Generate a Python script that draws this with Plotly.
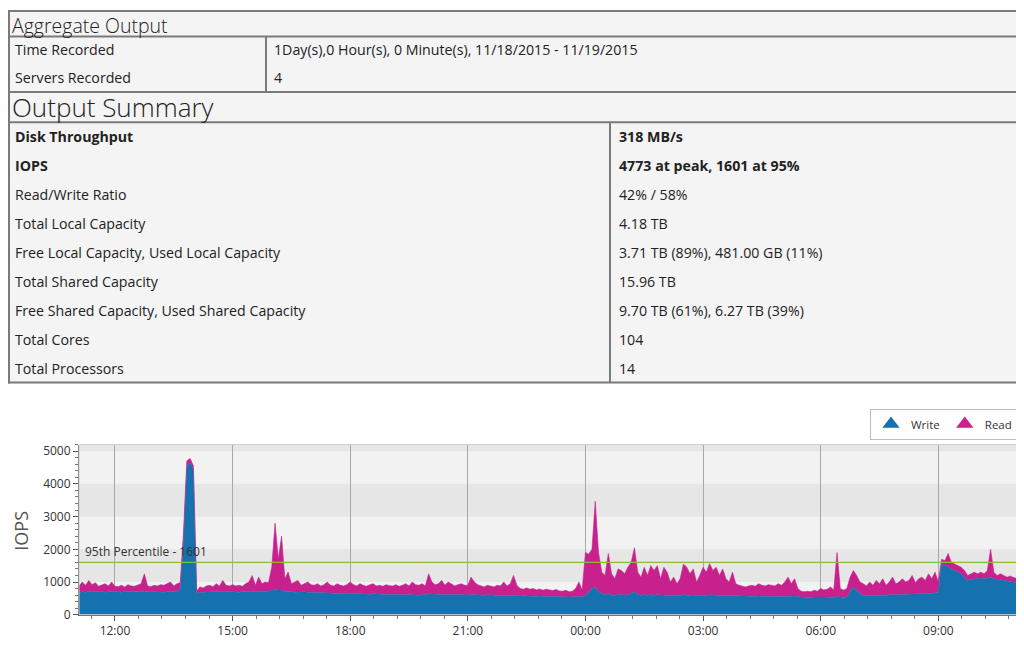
import plotly.graph_objects as go
import pandas as pd

# figure placement on the captured page (8px body margin, slight vertical squeeze)
W, H = 1016, 665
OX, OY, SY = 8, 10, 0.9837

# ---------------- table data ----------------
header_agg = "Aggregate Output"
header_sum = "Output Summary"
agg_labels = ["Time Recorded", "Servers Recorded"]
agg_values = ["1Day(s),0 Hour(s), 0 Minute(s), 11/18/2015 - 11/19/2015", "4"]
summary_labels = ["Disk Throughput", "IOPS", "Read/Write Ratio", "Total Local Capacity",
                  "Free Local Capacity, Used Local Capacity", "Total Shared Capacity",
                  "Free Shared Capacity, Used Shared Capacity", "Total Cores", "Total Processors"]
summary_values = ["318 MB/s", "4773 at peak, 1601 at 95%", "42% / 58%", "4.18 TB",
                  "3.71 TB (89%), 481.00 GB (11%)", "15.96 TB",
                  "9.70 TB (61%), 6.27 TB (39%)", "104", "14"]
bold_rows = [0, 1]

# ---------------- chart data (5-minute samples from 11/18 11:05) ----------------
start_time = "2015-11-18 11:05"
end_time = "2015-11-19 11:05"
p95_value = 1601
p95_label = "95th Percentile - 1601"
y_title = "IOPS"
series_names = ["Write", "Read"]

write_iops = [
    680, 700, 690, 710, 700, 690, 700, 720, 690, 700, 710, 700,      # 11:05-12:00
    700, 690, 710, 700, 690, 700, 710, 700, 690, 700, 710, 700,      # 12:05-13:00
    700, 700, 690, 700, 710, 700, 720, 800, 2300, 4500, 4650, 4450,  # 13:05-14:00
    650, 680, 690, 700, 690, 700, 710, 700, 690, 700, 710, 700,      # 14:05-15:00
    700, 690, 710, 700, 720, 700, 710, 700, 720, 710, 720, 750,      # 15:05-16:00
    770, 760, 760, 720, 700, 700, 690, 700, 690, 700, 690, 680,      # 16:05-17:00
    680, 670, 680, 670, 660, 670, 660, 650, 660, 650, 640, 650,      # 17:05-18:00
    640, 650, 640, 630, 640, 630, 640, 630, 620, 630, 620, 630,      # 18:05-19:00
    620, 630, 620, 610, 620, 610, 620, 610, 600, 620, 610, 640,      # 19:05-20:00
    630, 620, 610, 620, 610, 620, 610, 600, 610, 620, 610, 600,      # 20:05-21:00
    620, 610, 600, 610, 600, 610, 600, 590, 600, 590, 600, 590,      # 21:05-22:00
    590, 600, 580, 570, 580, 570, 560, 570, 560, 570, 560, 570,      # 22:05-23:00
    560, 550, 560, 550, 540, 550, 540, 550, 560, 550, 560, 600,      # 23:05-00:00
    700, 800, 850, 700, 650, 620, 650, 600, 600, 620, 610, 600,      # 00:05-01:00
    620, 650, 700, 620, 600, 610, 600, 620, 600, 610, 600, 590,      # 01:05-02:00
    600, 590, 600, 580, 600, 620, 600, 590, 610, 580, 600, 590,      # 02:05-03:00
    600, 610, 600, 590, 600, 590, 600, 590, 580, 590, 580, 570,      # 03:05-04:00
    570, 560, 570, 560, 570, 560, 570, 560, 550, 560, 550, 560,      # 04:05-05:00
    560, 570, 560, 570, 550, 540, 530, 540, 530, 540, 530, 540,      # 05:05-06:00
    540, 530, 540, 530, 560, 540, 530, 540, 700, 850, 750, 650,      # 06:05-07:00
    600, 580, 590, 580, 600, 590, 600, 590, 610, 600, 610, 620,      # 07:05-08:00
    620, 630, 620, 640, 630, 640, 650, 640, 660, 650, 670, 680,      # 08:05-09:00
    1550, 1500, 1450, 1400, 1350, 1300, 1250, 1150, 1050, 1080, 1100, 1100,  # 09:05-10:00
    1120, 1100, 1130, 1150, 1100, 1050, 1080, 1050, 1030, 1020, 1000, 980,   # 10:05-11:00
    950,                                                             # 11:05
]

read_iops = [
    200, 300, 210, 340, 220, 290, 170, 180, 260, 180, 290, 170,
    160, 210, 140, 220, 190, 170, 190, 250, 560, 180, 150, 200,
    180, 220, 210, 250, 290, 180, 230, 180, 250, 200, 123, 100,
    70, 170, 130, 180, 210, 160, 240, 180, 360, 200, 170, 220,
    180, 210, 160, 250, 280, 500, 190, 450, 230, 290, 260, 700,
    2030, 940, 1640, 380, 600, 250, 310, 350, 210, 250, 310, 240,
    220, 280, 200, 250, 340, 230, 220, 300, 240, 230, 280, 350,
    280, 230, 310, 270, 230, 290, 310, 250, 280, 240, 300, 260,
    260, 290, 250, 290, 330, 270, 380, 310, 300, 330, 270, 610,
    370, 300, 340, 430, 290, 380, 340, 280, 310, 330, 290, 300,
    530, 390, 320, 270, 250, 290, 270, 260, 300, 290, 400, 290,
    360, 600, 320, 230, 200, 250, 220, 230, 200, 220, 190, 210,
    200, 190, 210, 180, 180, 200, 160, 170, 240, 450, 200, 1300,
    1150, 1200, 2620, 1200, 650, 580, 1220, 650, 500, 780, 740, 650,
    830, 950, 1350, 680, 550, 840, 600, 880, 750, 890, 500, 860,
    700, 410, 550, 370, 500, 930, 850, 660, 790, 420, 600, 860,
    700, 950, 750, 860, 600, 810, 500, 410, 720, 360, 320, 310,
    280, 320, 330, 310, 380, 340, 310, 360, 350, 320, 400, 340,
    440, 580, 390, 530, 250, 180, 170, 180, 170, 210, 190, 260,
    220, 250, 310, 230, 1340, 260, 220, 260, 450, 500, 450, 350,
    350, 300, 410, 320, 450, 360, 500, 310, 390, 550, 340, 380,
    480, 370, 430, 560, 350, 460, 500, 410, 590, 450, 630, 320,
    150, 150, 420, 200, 200, 200, 200, 200, 150, 170, 200, 150,
    180, 150, 220, 850, 200, 150, 170, 150, 120, 160, 150, 120,
    120,
]

times = pd.date_range(start_time, periods=len(write_iops), freq="5min")

# ---------------- styling ----------------
FONT = "Open Sans"
WRITE_COLOR = "#1672ae"
READ_COLOR = "#c8208d"
LINE_COLOR = "#7a7a7a"
TABLE_BG = "#f4f4f4"
TXT = 14.2


def px(x):
    return (x - OX) / W


def py(y):
    return 1 - ((y - OY) / SY) / H


fig = go.Figure()

fig.add_trace(go.Scatter(x=times, y=write_iops, name=series_names[0], stackgroup="one",
                         mode="lines", line=dict(width=0.6, color=WRITE_COLOR),
                         fillcolor=WRITE_COLOR, showlegend=False, hoverinfo="x+y"))
fig.add_trace(go.Scatter(x=times, y=read_iops, name=series_names[1], stackgroup="one",
                         mode="lines", line=dict(width=0.6, color=READ_COLOR),
                         fillcolor=READ_COLOR, showlegend=False, hoverinfo="x+y"))
# legend entries (triangle symbols)
fig.add_trace(go.Scatter(x=[None], y=[None], mode="markers", name=series_names[0],
                         marker=dict(symbol="triangle-up", size=15, color=WRITE_COLOR)))
fig.add_trace(go.Scatter(x=[None], y=[None], mode="markers", name=series_names[1],
                         marker=dict(symbol="triangle-up", size=15, color=READ_COLOR)))

shapes = []
# table background
shapes.append(dict(type="rect", xref="paper", yref="paper", x0=0, x1=1,
                   y0=py(383), y1=1, fillcolor=TABLE_BG, line=dict(width=0), layer="below"))
for yy in [11, 36.5, 92, 122, 382]:
    shapes.append(dict(type="line", xref="paper", yref="paper", x0=0, x1=1,
                       y0=py(yy), y1=py(yy), line=dict(color=LINE_COLOR, width=2)))
shapes.append(dict(type="line", xref="paper", yref="paper", x0=px(9), x1=px(9),
                   y0=py(11), y1=py(383), line=dict(color=LINE_COLOR, width=2)))
shapes.append(dict(type="line", xref="paper", yref="paper", x0=px(266), x1=px(266),
                   y0=py(36.5), y1=py(92), line=dict(color=LINE_COLOR, width=2)))
shapes.append(dict(type="line", xref="paper", yref="paper", x0=px(610), x1=px(610),
                   y0=py(122), y1=py(382), line=dict(color=LINE_COLOR, width=2)))

# plot background bands
for b0, b1 in [(1000, 2000), (3000, 4000), (5000, 5200)]:
    shapes.append(dict(type="rect", xref="x domain", yref="y", x0=0, x1=1, y0=b0, y1=b1,
                       fillcolor="#e6e6e6", line=dict(width=0), layer="below"))
# plot frame
shapes.append(dict(type="rect", xref="x domain", yref="y domain", x0=0, x1=1, y0=0, y1=1,
                   line=dict(color="#cccccc", width=1), layer="above"))
# 95th percentile line
shapes.append(dict(type="line", xref="x domain", yref="y", x0=0, x1=1, y0=p95_value,
                   y1=p95_value, line=dict(color="#8cbf2f", width=1.2), layer="above"))

annotations = []
annotations.append(dict(xref="paper", yref="paper", x=px(10), y=1, text=header_agg,
                        showarrow=False, xanchor="left", yanchor="top",
                        font=dict(family=FONT, size=19.5, color="#222", weight=300)))
annotations.append(dict(xref="paper", yref="paper", x=px(10), y=py(107), text=header_sum,
                        showarrow=False, xanchor="left", yanchor="middle",
                        font=dict(family=FONT, size=26, color="#222", weight=300)))
for i, (lab, val) in enumerate(zip(agg_labels, agg_values)):
    yc = 49 + 28 * i
    annotations.append(dict(xref="paper", yref="paper", x=px(13), y=py(yc), text=lab,
                            showarrow=False, xanchor="left", yanchor="middle",
                            font=dict(family=FONT, size=TXT, color="#222")))
    annotations.append(dict(xref="paper", yref="paper", x=px(272), y=py(yc), text=val,
                            showarrow=False, xanchor="left", yanchor="middle",
                            font=dict(family=FONT, size=TXT, color="#222")))
for i, (lab, val) in enumerate(zip(summary_labels, summary_values)):
    yc = 136 + 29 * i
    wt = 700 if i in bold_rows else 400
    annotations.append(dict(xref="paper", yref="paper", x=px(13), y=py(yc), text=lab,
                            showarrow=False, xanchor="left", yanchor="middle",
                            font=dict(family=FONT, size=TXT, color="#222", weight=wt)))
    annotations.append(dict(xref="paper", yref="paper", x=px(617), y=py(yc), text=val,
                            showarrow=False, xanchor="left", yanchor="middle",
                            font=dict(family=FONT, size=TXT, color="#222", weight=wt)))

annotations.append(dict(xref="x domain", yref="y", x=0.004, y=p95_value, text=p95_label,
                        showarrow=False, xanchor="left", yanchor="bottom", yshift=0,
                        font=dict(family=FONT, size=12, color="#333")))
annotations.append(dict(xref="paper", yref="paper", x=px(21), y=py(530), text=y_title,
                        showarrow=False, textangle=-90, xanchor="center", yanchor="middle",
                        font=dict(family=FONT, size=18, color="#555")))

fig.update_layout(
    width=W, height=H,
    margin=dict(l=0, r=0, t=0, b=0),
    paper_bgcolor="white",
    plot_bgcolor="#f2f2f2",
    font=dict(family=FONT, size=12, color="#333"),
    shapes=shapes,
    annotations=annotations,
    showlegend=True,
    legend=dict(orientation="h", x=px(1018), xanchor="right", y=py(408), yanchor="top",
                bgcolor="white", bordercolor="#bbbbbb", borderwidth=1, traceorder="normal",
                font=dict(family=FONT, size=11.5, color="#333"), itemwidth=30,
                tracegroupgap=0),
    xaxis=dict(domain=[px(79), px(1020)], range=[start_time, end_time], type="date",
               tickformat="%H:%M", dtick=3 * 3600 * 1000, tick0="2015-11-18 00:00",
               showgrid=True, gridcolor="#a8a8a8", gridwidth=1,
               ticks="outside", ticklen=5, tickcolor="#555",
               showline=True, linecolor="#555", linewidth=1,
               minor=dict(dtick=36 * 60 * 1000, tick0="2015-11-18 12:00", ticks="outside",
                          ticklen=3, tickcolor="#777", showgrid=False),
               tickfont=dict(family=FONT, size=12, color="#333"), zeroline=False),
    yaxis=dict(domain=[py(614), py(444)], range=[0, 5200], dtick=1000,
               showgrid=False, zeroline=False, ticks="outside", ticklen=5, tickcolor="#555",
               showline=True, linecolor="#555", linewidth=1,
               minor=dict(dtick=200, ticks="outside", ticklen=3, tickcolor="#777"),
               tickfont=dict(family=FONT, size=12, color="#333")),
)

fig.write_html("out.html")
